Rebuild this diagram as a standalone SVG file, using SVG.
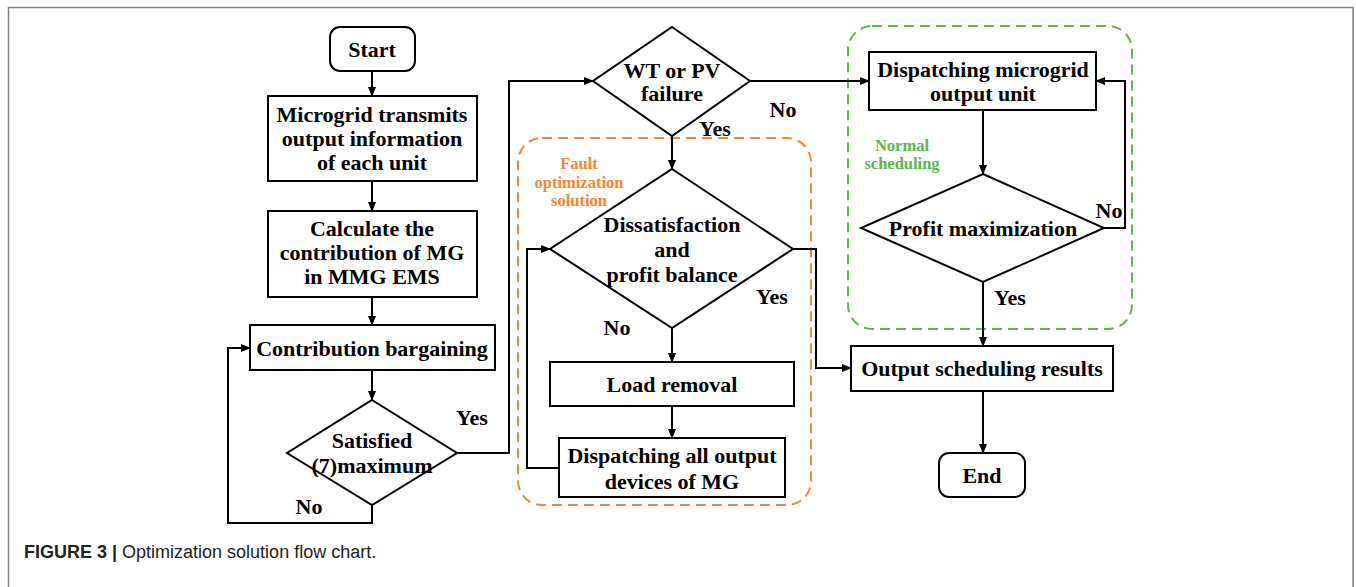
<svg xmlns="http://www.w3.org/2000/svg" width="1356" height="587" viewBox="0 0 1356 587">
<defs>
<marker id="ah" markerWidth="10" markerHeight="8" refX="9" refY="4" orient="auto" markerUnits="userSpaceOnUse">
<path d="M0,0 L10,4 L0,8 Z" fill="#000"/>
</marker>
<style>
.n{fill:#fff;stroke:#000;stroke-width:2}
.t{font-family:"Liberation Serif","Times New Roman",serif;font-weight:bold;font-size:22px;fill:#000;text-anchor:middle;dominant-baseline:central}
.c{fill:none;stroke:#000;stroke-width:2}
.a{marker-end:url(#ah)}
.og{fill:none;stroke:#F4862F;stroke-width:2;stroke-dasharray:10,6}
.gg{fill:none;stroke:#5BB84A;stroke-width:2;stroke-dasharray:10,6}
.ol{font-family:"Liberation Serif",serif;font-weight:bold;font-size:16.5px;fill:#F4862F;text-anchor:middle;dominant-baseline:central}
.gl{font-family:"Liberation Serif",serif;font-weight:bold;font-size:16.5px;fill:#5BB84A;text-anchor:middle;dominant-baseline:central}
.lb{font-family:"Liberation Serif",serif;font-weight:bold;font-size:22px;fill:#000;text-anchor:middle;dominant-baseline:central}
</style>
</defs>
<rect width="1356" height="587" fill="#fff"/>
<path d="M8.5,587 V7.5 H1353 V587" fill="none" stroke="#808080" stroke-width="1.5"/>

<g id="group-fault">
<rect x="518" y="138" width="293" height="367" rx="24" class="og"/>
<text class="ol" x="579" y="163">Fault</text>
<text class="ol" x="579" y="182">optimization</text>
<text class="ol" x="579" y="200">solution</text>
</g>
<g id="group-normal">
<rect x="848" y="26" width="284" height="303" rx="24" class="gg"/>
<text class="gl" x="902" y="145">Normal</text>
<text class="gl" x="902" y="163">scheduling</text>
</g>

<g id="connectors">
<path class="c a" d="M372,71 V96"/>
<path class="c a" d="M372,181 V211"/>
<path class="c a" d="M372,297 V325"/>
<path class="c a" d="M372,370 V400"/>
<path class="c a" d="M372,505 V523 H228 V348 H250"/>
<path class="c a" d="M457,453 H509 V81 H593"/>
<path class="c a" d="M750,81 H869"/>
<path class="c a" d="M672,136 V169"/>
<path class="c a" d="M672,328 V362"/>
<path class="c a" d="M672,406 V438"/>
<path class="c a" d="M559,468 H527 V249 H550"/>
<path class="c a" d="M793,249 H816 V368 H851"/>
<path class="c a" d="M983,110 V174"/>
<path class="c a" d="M1104,228 H1125 V81 H1096"/>
<path class="c a" d="M983,282 V346"/>
<path class="c a" d="M983,391 V453"/>
<text class="lb" x="472" y="417">Yes</text>
<text class="lb" x="309" y="506">No</text>
<text class="lb" x="783" y="109">No</text>
<text class="lb" x="715" y="128">Yes</text>
<text class="lb" x="772" y="296">Yes</text>
<text class="lb" x="617" y="327">No</text>
<text class="lb" x="1109" y="210">No</text>
<text class="lb" x="1010" y="297">Yes</text>
</g>

<g id="start">
<rect class="n" x="330" y="27" width="85" height="44" rx="10"/>
<text class="t" x="372" y="49">Start</text>
</g>
<g id="transmit">
<rect class="n" x="268" y="96" width="209" height="85"/>
<text class="t" x="372" y="114">Microgrid transmits</text>
<text class="t" x="372" y="138">output information</text>
<text class="t" x="372" y="162">of each unit</text>
</g>
<g id="calculate">
<rect class="n" x="268" y="211" width="209" height="86"/>
<text class="t" x="372" y="228">Calculate the</text>
<text class="t" x="372" y="252">contribution of MG</text>
<text class="t" x="372" y="276">in MMG EMS</text>
</g>
<g id="bargaining">
<rect class="n" x="250" y="325" width="245" height="45"/>
<text class="t" x="372" y="348">Contribution bargaining</text>
</g>
<g id="satisfied">
<polygon class="n" points="372,400 457,453 372,505 287,453"/>
<text class="t" x="372" y="440">Satisfied</text>
<text class="t" x="372" y="465">(7)maximum</text>
</g>
<g id="failure">
<polygon class="n" points="672,27 750,81 672,136 593,81"/>
<text class="t" x="672" y="70">WT or PV</text>
<text class="t" x="672" y="93">failure</text>
</g>
<g id="dissatisfaction">
<polygon class="n" points="672,169 793,249 672,328 550,249"/>
<text class="t" x="672" y="224">Dissatisfaction</text>
<text class="t" x="672" y="249">and</text>
<text class="t" x="672" y="274">profit balance</text>
</g>
<g id="load-removal">
<rect class="n" x="550" y="362" width="244" height="44"/>
<text class="t" x="672" y="384">Load removal</text>
</g>
<g id="dispatch-all">
<rect class="n" x="559" y="438" width="226" height="59"/>
<text class="t" x="672" y="455">Dispatching all output</text>
<text class="t" x="672" y="481">devices of MG</text>
</g>
<g id="dispatch-unit">
<rect class="n" x="869" y="52" width="227" height="58"/>
<text class="t" x="983" y="69">Dispatching microgrid</text>
<text class="t" x="983" y="93">output unit</text>
</g>
<g id="profit">
<polygon class="n" points="983,174 1104,228 983,282 861,228"/>
<text class="t" x="983" y="228">Profit maximization</text>
</g>
<g id="output">
<rect class="n" x="851" y="346" width="262" height="45"/>
<text class="t" x="982" y="368">Output scheduling results</text>
</g>
<g id="end">
<rect class="n" x="939" y="453" width="86" height="44" rx="10"/>
<text class="t" x="982" y="475">End</text>
</g>

<text x="24" y="558" font-family="'Liberation Sans',Arial,sans-serif" font-size="18px" fill="#222"><tspan font-weight="bold">FIGURE 3 |</tspan> Optimization solution flow chart.</text>
</svg>
